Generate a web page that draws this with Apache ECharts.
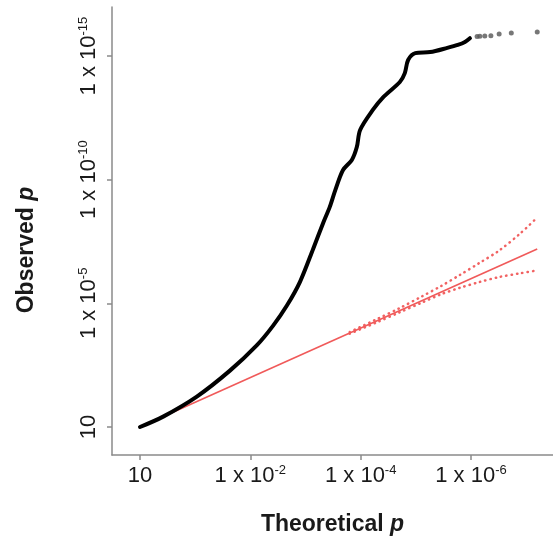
<!DOCTYPE html>
<html>
<head>
<meta charset="utf-8">
<script src="https://cdn.jsdelivr.net/npm/echarts@6/dist/echarts.min.js"></script>
<style>
  html, body { margin: 0; padding: 0; background: #fff; }
  #chart { width: 553px; height: 548px; }
</style>
</head>
<body>
<div id="chart"></div>
<script>
// QQ plot on the -log10(p) scale: theoretical (x) against observed (y)

// Observed -log10 p along the dense part of the curve, [theoretical, observed]
const observedCurve = [
  [0, 0], [0.42, 0.42], [1.03, 1.23], [1.63, 2.28], [2.12, 3.31], [2.41, 4.09],
  [2.66, 4.90], [2.90, 5.87], [3.14, 7.21], [3.32, 8.25], [3.44, 8.90], [3.54, 9.58],
  [3.68, 10.39], [3.84, 10.80], [3.93, 11.32], [3.99, 12.01], [4.22, 12.82],
  [4.41, 13.34], [4.71, 13.95], [4.80, 14.31], [4.86, 14.84], [4.99, 15.12],
  [5.26, 15.16], [5.57, 15.33], [5.76, 15.45], [5.89, 15.57], [5.98, 15.72]
];

// The most significant points, drawn individually
const observedTop = [
  [6.11, 15.79], [6.16, 15.80], [6.25, 15.81], [6.36, 15.82],
  [6.51, 15.89], [6.73, 15.93], [7.20, 15.97]
];

// Null expectation (observed = theoretical)
const expectedLine = [[0, 0], [7.2, 7.2]];

// 95% band around the null expectation
const ciX = [3.8, 4.3, 4.7, 5.1, 5.45, 5.8, 6.15, 6.5, 6.9, 7.2];
const ciUpper = [3.84, 4.37, 4.80, 5.27, 5.69, 6.15, 6.63, 7.12, 7.84, 8.47];
const ciLower = [3.77, 4.24, 4.63, 5.02, 5.36, 5.63, 5.86, 6.06, 6.22, 6.33];

// Tick positions and their labels (base text + superscript exponent)
const xTicks = [0, 2, 4, 6];
const xTickBase = ['10', '1 x 10', '1 x 10', '1 x 10'];
const xTickExp = ['', '-2', '-4', '-6'];
const yTicks = [0, 5, 10, 15];
const yTickBase = ['10', '1 x 10', '1 x 10', '1 x 10'];
const yTickExp = ['', '-5', '-10', '-15'];

const FONT = '"Liberation Sans", Arial, sans-serif';
const AXIS_GRAY = '#8a8a8a';
const RED = '#f05a5a';

function tickFormatter(ticks, base, exp) {
  return function (v) {
    const i = ticks.findIndex(t => Math.abs(t - v) < 1e-6);
    if (i < 0) return '';
    return exp[i] ? '{m|' + base[i] + '}{s|' + exp[i] + '}' : '{m|' + base[i] + '}';
  };
}

const labelRich = {
  m: { fontSize: 22, lineHeight: 24, color: '#1a1a1a', fontFamily: FONT },
  s: { fontSize: 13, lineHeight: 17, verticalAlign: 'top', color: '#1a1a1a', fontFamily: FONT }
};

const nameRich = {
  b: { fontSize: 23, fontWeight: 'bold', color: '#1a1a1a', fontFamily: FONT },
  i: { fontSize: 23, fontWeight: 'bold', fontStyle: 'italic', color: '#1a1a1a', fontFamily: FONT }
};

const dottedStyle = { color: RED, width: 2.5, type: [0.4, 5], cap: 'round', opacity: 0.95 };

const chart = echarts.init(document.getElementById('chart'), null, { renderer: 'canvas' });

chart.setOption({
  animation: false,
  backgroundColor: '#ffffff',
  grid: { left: 112, right: 0, top: 7, bottom: 93, containLabel: false },
  xAxis: {
    type: 'value',
    min: -0.5075,
    max: 7.486,
    name: '{b|Theoretical }{i|p}',
    nameLocation: 'middle',
    nameGap: 58,
    nameTextStyle: { rich: nameRich },
    axisLine: { show: true, onZero: false, lineStyle: { color: AXIS_GRAY, width: 1.5 } },
    axisTick: { show: true, length: 5, customValues: xTicks, lineStyle: { color: AXIS_GRAY, width: 1.5 } },
    axisLabel: {
      customValues: xTicks,
      margin: 9,
      formatter: tickFormatter(xTicks, xTickBase, xTickExp),
      rich: labelRich
    },
    splitLine: { show: false }
  },
  yAxis: {
    type: 'value',
    min: -1.132,
    max: 16.983,
    name: '{b|Observed }{i|p}',
    nameLocation: 'middle',
    nameGap: 74,
    nameTextStyle: { rich: nameRich, padding: [0, 38, 0, 0] },
    axisLine: { show: true, onZero: false, lineStyle: { color: AXIS_GRAY, width: 1.5 } },
    axisTick: { show: true, length: 5, customValues: yTicks, lineStyle: { color: AXIS_GRAY, width: 1.5 } },
    axisLabel: {
      customValues: yTicks,
      rotate: 90,
      margin: 11,
      formatter: tickFormatter(yTicks, yTickBase, yTickExp),
      rich: labelRich
    },
    splitLine: { show: false }
  },
  series: [
    {
      name: 'Upper bound',
      type: 'line',
      data: ciX.map((x, i) => [x, ciUpper[i]]),
      smooth: 0.3,
      showSymbol: false,
      lineStyle: dottedStyle,
      z: 1
    },
    {
      name: 'Lower bound',
      type: 'line',
      data: ciX.map((x, i) => [x, ciLower[i]]),
      smooth: 0.3,
      showSymbol: false,
      lineStyle: dottedStyle,
      z: 1
    },
    {
      name: 'Expected',
      type: 'line',
      data: expectedLine,
      showSymbol: false,
      lineStyle: { color: RED, width: 1.6 },
      z: 2
    },
    {
      name: 'Observed',
      type: 'line',
      data: observedCurve,
      smooth: 0.3,
      showSymbol: false,
      lineStyle: { color: '#000000', width: 4, cap: 'round', join: 'round' },
      z: 3
    },
    {
      name: 'Top hits',
      type: 'scatter',
      data: observedTop,
      symbolSize: 5,
      itemStyle: { color: '#555555' },
      z: 3
    }
  ]
});
</script>
</body>
</html>
